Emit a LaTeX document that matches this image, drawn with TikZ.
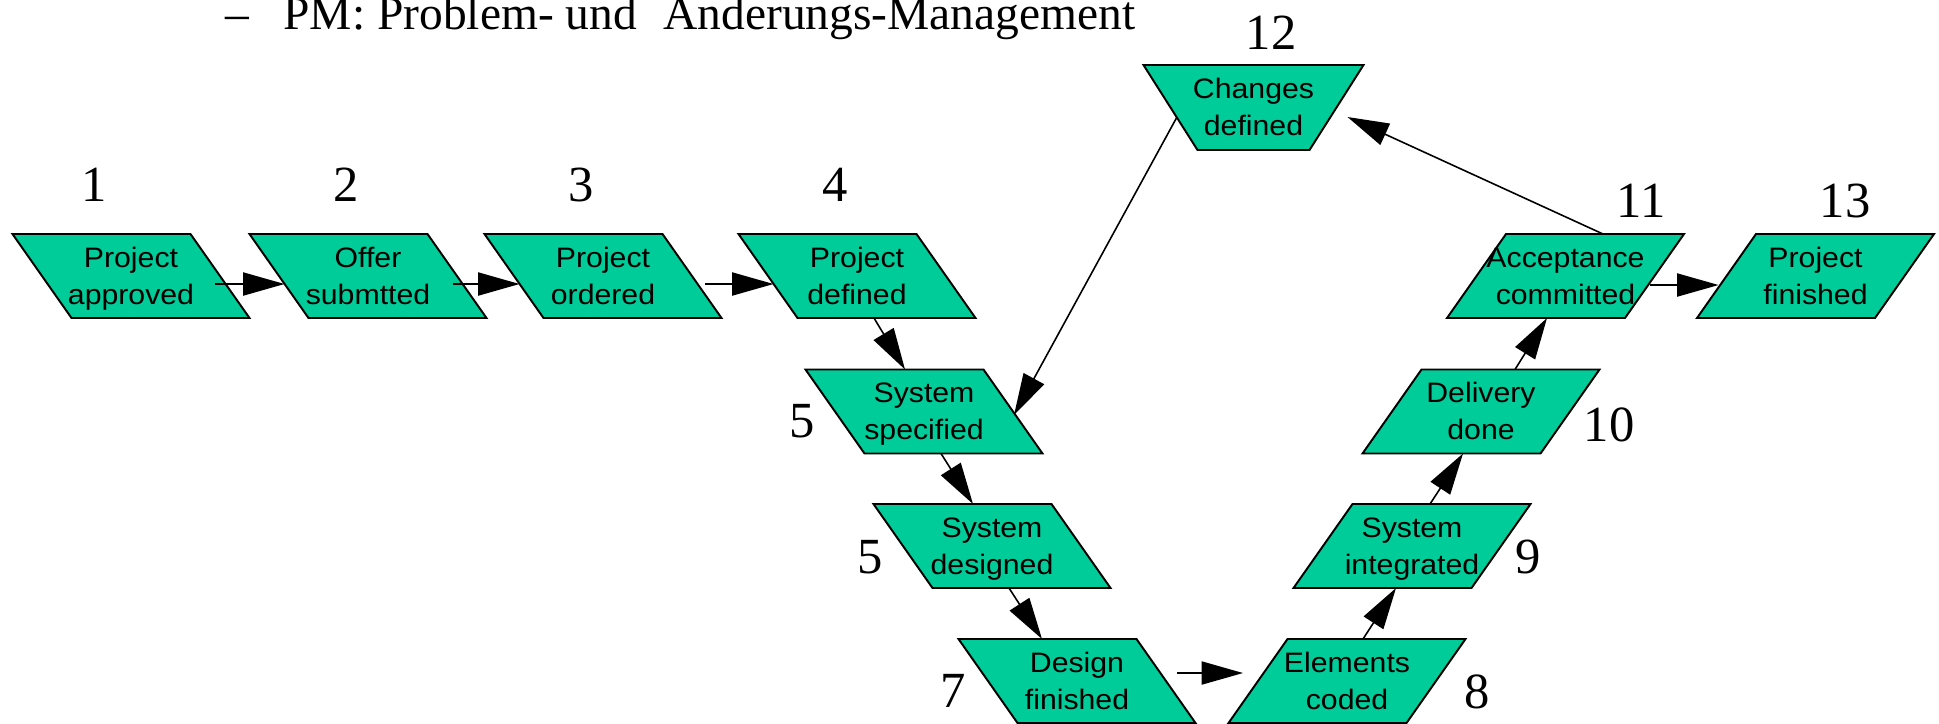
\documentclass[tikz,border=0pt]{standalone}
\usepackage{fontspec}
\setmainfont{Liberation Serif}
\newfontfamily\evfam[FakeStretch=1.075]{Liberation Sans}
\usetikzlibrary{arrows.meta,calc}

\definecolor{evgreen}{RGB}{0,204,153}

\newcommand\evfont{\evfam\fontsize{8}{10.53}\selectfont}
\newcommand\numfont{\fontsize{14.4}{16}\selectfont}
\newcommand\headfont{\fontsize{13.5}{15}\selectfont}

% two centred lines with fixed struts, so every label sits at the same height
\newcommand\twolines[2]{\rule{0pt}{7.5pt}#1\\#2\rule[-2.09pt]{0pt}{2.09pt}}

\tikzset{
  evshape/.style={draw=black, fill=evgreen, line width=0.55pt, line join=miter},
  evtext/.style={inner sep=0pt, align=center, font=\evfont},
  stepnum/.style={inner sep=0pt, anchor=base, font=\numfont},
  flow/.style={draw=black, line width=0.45pt, -{Triangle[length=11.8pt,width=6.6pt]}},
}

% event leaning left (top edge shifted to the left)
\newcommand\eventL[4]{%
  \draw[evshape] (#2-118.5,#3-42) -- (#2+59.5,#3-42) -- (#2+118.5,#3+42) -- (#2-59.5,#3+42) -- cycle;
  \node[evtext] (#1) at (#2,#3) {#4};}
% event leaning right (top edge shifted to the right)
\newcommand\eventR[4]{%
  \draw[evshape] (#2-59.5,#3-42) -- (#2+118.5,#3-42) -- (#2+59.5,#3+42) -- (#2-118.5,#3+42) -- cycle;
  \node[evtext] (#1) at (#2,#3) {#4};}

\begin{document}
\begin{tikzpicture}[x=0.01cm, y=-0.01cm]
\useasboundingbox (0,0) rectangle (1939,723);

% heading line
\node[anchor=base west, inner sep=0pt, font=\headfont] (head) at (225,29)
  {–\hspace{9.7pt}PM: Problem- und\hspace{7.5pt}Änderungs-Management};

% events
\eventL{n1}{131}{276}{\twolines{Project}{approved}}
\eventL{n2}{368}{276}{\twolines{Offer}{submtted}}
\eventL{n3}{603}{276}{\twolines{Project}{ordered}}
\eventL{n4}{857}{276}{\twolines{Project}{defined}}
\eventL{n5}{924}{411.5}{\twolines{System}{specified}}
\eventL{n6}{992}{546}{\twolines{System}{designed}}
\eventL{n7}{1077}{681}{\twolines{Design}{finished}}
\eventR{n8}{1347}{681}{\twolines{Elements}{coded}}
\eventR{n9}{1412}{546}{\twolines{System}{integrated}}
\eventR{n10}{1481}{411.5}{\twolines{Delivery}{done}}
\eventR{n11}{1565.5}{276}{\twolines{Acceptance}{committed}}
\eventR{n13}{1815.5}{276}{\twolines{Project}{finished}}

% change event (trapezoid)
\draw[evshape] (1253.5-110,107.5-42.5) -- (1253.5+110,107.5-42.5)
  -- (1253.5+56,107.5+42.5) -- (1253.5-56,107.5+42.5) -- cycle;
\node[evtext] (n12) at (1253.5,107.5) {\twolines{Changes}{defined}};

% step numbers
\node[stepnum] (k1)  at (94.5,201) {1};
\node[stepnum] (k2)  at (346,201)  {2};
\node[stepnum] (k3)  at (581,201)  {3};
\node[stepnum] (k4)  at (835,201)  {4};
\node[stepnum] (k5)  at (802,437)  {5};
\node[stepnum] (k6)  at (870,573)  {5};
\node[stepnum] (k7)  at (953,707)  {7};
\node[stepnum] (k8)  at (1477,708) {8};
\node[stepnum] (k9)  at (1528,573) {9};
\node[stepnum] (k10) at (1609,441) {10};
\node[stepnum] (k11) at (1641,217) {11};
\node[stepnum] (k12) at (1271,49)  {12};
\node[stepnum] (k13) at (1845,217) {13};

% control flow
\draw[flow] ($(n1.center)+(84,8)$)      -- ($(n2.center)+(-83.5,8)$);
\draw[flow] ($(n2.center)+(85,8)$)      -- ($(n3.center)+(-83.5,8)$);
\draw[flow] ($(n3.center)+(102,8)$)     -- ($(n4.center)+(-83.5,8)$);
\draw[flow] ($(n4.center)+(17,42)$)     -- ($(n5.center)+(-19,-42)$);
\draw[flow] ($(n5.center)+(17,42)$)     -- ($(n6.center)+(-19,-42)$);
\draw[flow] ($(n6.center)+(17,42)$)     -- ($(n7.center)+(-35,-42)$);
\draw[flow] ($(n7.center)+(100,-8)$)    -- ($(n8.center)+(-104,-8)$);
\draw[flow] ($(n8.center)+(16,-42)$)    -- ($(n9.center)+(-16,42)$);
\draw[flow] ($(n9.center)+(18,-42)$)    -- ($(n10.center)+(-18,42)$);
\draw[flow] ($(n10.center)+(34,-42)$)   -- ($(n11.center)+(-18.5,42)$);
\draw[flow] ($(n11.center)+(84.5,9)$)   -- ($(n13.center)+(-97,9)$);
\draw[flow] ($(n11.center)+(37.5,-42)$) -- ($(n12.center)+(94,9.5)$);
\draw[flow] ($(n12.center)+(-76.5,9.5)$) -- ($(n5.center)+(90,3.5)$);
\end{tikzpicture}
\end{document}
